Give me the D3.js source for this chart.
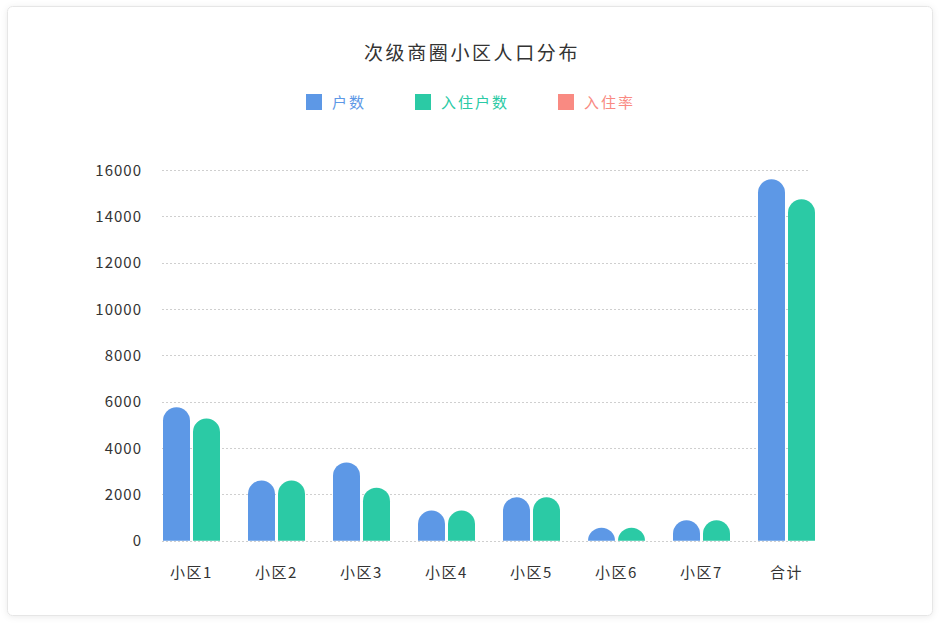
<!DOCTYPE html>
<html><head><meta charset="utf-8">
<script src="https://cdn.jsdelivr.net/npm/d3@7/dist/d3.min.js"></script>
<style>
html,body{margin:0;padding:0;background:#fff;}
svg{display:block;font-family:"Noto Sans CJK SC","Noto Sans",sans-serif;}
</style></head>
<body>
<svg id="chart" width="950" height="634"></svg>
<script>
const categories = ["小区1","小区2","小区3","小区4","小区5","小区6","小区7","合计"];
const households = [5760, 2600, 3380, 1300, 1870, 560, 880, 15600];
const occupied   = [5270, 2600, 2290, 1300, 1870, 560, 880, 14740];
const yTicks = [0, 2000, 4000, 6000, 8000, 10000, 12000, 14000, 16000];
const seriesNames = ["户数", "入住户数", "入住率"];
const colors = ["#5D98E6", "#2BCAA5", "#F98A82"];

const svg = d3.select("#chart");
const defs = svg.append("defs");
const f = defs.append("filter").attr("id","sh").attr("x","-5%").attr("y","-5%").attr("width","110%").attr("height","110%");
f.append("feDropShadow").attr("dx",0).attr("dy",1).attr("stdDeviation",3).attr("flood-color","#000").attr("flood-opacity",0.08);

svg.append("rect").attr("x",7.5).attr("y",6.5).attr("width",925).attr("height",609)
  .attr("rx",5).attr("fill","#fff").attr("stroke","#e6e6e6").attr("filter","url(#sh)");

svg.append("text").attr("x",364).attr("y",60)
  .attr("font-size",19).attr("letter-spacing",2.6).attr("fill","#333").text("次级商圈小区人口分布");

// legend
const legX = [306, 415, 558];
seriesNames.forEach((n,i)=>{
  svg.append("rect").attr("x",legX[i]).attr("y",94).attr("width",16).attr("height",16).attr("fill",colors[i]);
  svg.append("text").attr("x",legX[i]+26).attr("y",107.5).attr("font-size",15).attr("letter-spacing",2)
    .attr("fill",colors[i]).text(n);
});

const y = d3.scaleLinear().domain([0,16000]).range([540.7,170]);
const x = d3.scaleBand().domain(categories).range([149,829]).paddingInner(0).paddingOuter(0);

// grid
const gridL = 162, gridR = 810;
svg.append("g").selectAll("line").data(yTicks).join("line")
  .attr("x1",gridL).attr("x2",gridR)
  .attr("y1",d=>Math.round(y(d))+0.5).attr("y2",d=>Math.round(y(d))+0.5)
  .attr("stroke","#cfcfcf").attr("stroke-dasharray","2,2");

// y axis labels
const yAxis = d3.axisLeft(y).tickValues(yTicks).tickSize(0).tickPadding(0).tickFormat(d3.format("d"));
const ga = svg.append("g").attr("transform","translate(142,0)").call(yAxis);
ga.select(".domain").remove();
ga.selectAll("text").attr("font-size",15).attr("fill","#333").attr("letter-spacing",1)
  .attr("font-family","'Noto Sans CJK SC',sans-serif").attr("dy","0.35em");

// x axis labels
const xAxis = d3.axisBottom(x).tickSize(0).tickPadding(0);
const gx = svg.append("g").attr("transform","translate(0,578)").call(xAxis);
gx.select(".domain").remove();
gx.selectAll("text").attr("font-size",15).attr("fill","#333").attr("letter-spacing",1.5)
  .attr("font-family","'Noto Sans CJK SC',sans-serif").attr("dy",0);

// bars
const bw = 27, gap = 3;
function barPath(x0, v){
  const y0 = y(0), y1 = y(v), r = bw/2;
  const h = y0 - y1;
  const rr = Math.min(r, h);
  return `M${x0},${y0} L${x0},${y1+rr} A${r},${rr} 0 0 1 ${x0+bw},${y1+rr} L${x0+bw},${y0} Z`;
}
[households, occupied].forEach((arr,si)=>{
  svg.append("g").selectAll("path").data(categories).join("path")
    .attr("d",(c,i)=>{
      const cx = x(c) + x.bandwidth()/2;
      const x0 = si===0 ? cx - gap/2 - bw : cx + gap/2;
      return barPath(x0, arr[i]);
    })
    .attr("fill",colors[si]);
});
</script>
</body></html>
